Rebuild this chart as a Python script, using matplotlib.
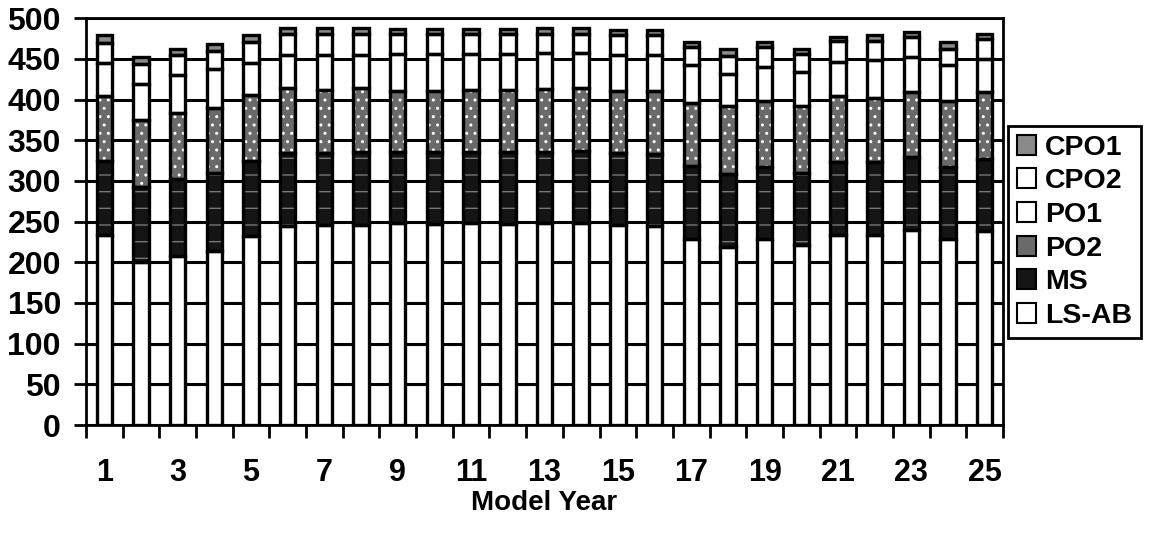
import numpy as np
import matplotlib.pyplot as plt
from matplotlib.patches import Patch

# data
years = list(range(1, 26))
ls_ab = [233, 200, 208, 214, 232, 244, 246, 246, 248, 247, 248, 247, 248,
         248, 246, 244, 229, 219, 228, 221, 234, 234, 240, 228, 238]
ms = [92, 93, 94, 96, 92, 90, 88, 89, 88, 88, 88, 88, 88,
      89, 88, 89, 89, 89, 89, 89, 89, 89, 90, 89, 89]
po2 = [79, 82, 81, 80, 82, 80, 78, 79, 75, 76, 76, 77, 77,
       77, 77, 78, 78, 84, 81, 82, 81, 79, 79, 81, 82]
po1 = [41, 44, 47, 47, 39, 41, 43, 41, 45, 45, 44, 44, 44,
       43, 44, 44, 46, 40, 42, 42, 42, 46, 43, 44, 41]
cpo2 = [25, 25, 25, 23, 26, 25, 25, 25, 24, 24, 24, 24, 24,
        24, 24, 24, 22, 22, 24, 22, 26, 24, 25, 20, 25]
cpo1 = [9, 8, 7, 8, 8, 8, 8, 8, 7, 7, 7, 7, 7,
        7, 7, 7, 7, 8, 7, 6, 5, 7, 6, 9, 6]

series = [
    ("LS-AB", ls_ab, "white", None, "white"),
    ("MS", ms, "#141414", "-", "#777777"),
    ("PO2", po2, "#6a6a6a", "..", "white"),
    ("PO1", po1, "white", None, "white"),
    ("CPO2", cpo2, "white", None, "white"),
    ("CPO1", cpo1, "#8a8a8a", None, "white"),
]

plt.rcParams["font.family"] = ["Liberation Sans", "DejaVu Sans"]
plt.rcParams["font.weight"] = "bold"
plt.rcParams["hatch.linewidth"] = 1.0

fig = plt.figure(figsize=(11.59, 5.35), dpi=100)
ax = fig.add_axes([0.0742, 0.2056, 0.7912, 0.7604])

x = np.array(years)
width = 0.42
bottom = np.zeros(len(years))
for name, vals, color, hatch, hcol in series:
    vals = np.array(vals)
    # fill (hatch drawn in its own colour)
    ax.bar(x, vals, width, bottom=bottom, color=color, edgecolor=hcol,
           hatch=hatch, linewidth=0, zorder=2)
    # thick black outline on top
    ax.bar(x, vals, width, bottom=bottom, facecolor="none",
           edgecolor="black", linewidth=2.4, zorder=3)
    bottom += vals

ax.set_xlim(0.5, 25.5)
ax.set_ylim(0, 500)
ax.set_yticks(range(0, 501, 50))
ax.yaxis.grid(True, color="black", linewidth=2.2, zorder=0)
ax.set_axisbelow(True)

ax.set_xticks(years[::2])
ax.set_xticklabels([str(y) for y in years[::2]])
ax.set_xticks(np.arange(0.5, 26, 1), minor=True)
ax.tick_params(axis="x", which="major", length=0, pad=24, labelsize=22)
ax.tick_params(axis="x", which="minor", length=9, width=2, direction="out")
ax.tick_params(axis="y", length=9, width=2, direction="out", pad=9,
               labelsize=23)
for lab in ax.get_xticklabels() + ax.get_yticklabels():
    lab.set_fontweight("bold")

for sp in ax.spines.values():
    sp.set_linewidth(2)
    sp.set_color("black")

ax.set_xlabel("Model Year", fontsize=20, fontweight="bold", labelpad=1)

handles = []
for name, vals, color, hatch, hcol in reversed(series):
    handles.append(Patch(facecolor=color, edgecolor="black", linewidth=1.5,
                         label=name))
leg = fig.legend(handles=handles, loc="upper left",
                 bbox_to_anchor=(1008 / 1159, 1 - 126 / 535),
                 frameon=True, fancybox=False, framealpha=1,
                 prop={"size": 20.5, "weight": "bold"},
                 handlelength=0.7, handleheight=0.7, handletextpad=0.3,
                 labelspacing=0.27, borderpad=0.3, borderaxespad=0)
leg.get_frame().set_edgecolor("black")
leg.get_frame().set_linewidth(2)

fig.savefig("out.png", dpi=100)
